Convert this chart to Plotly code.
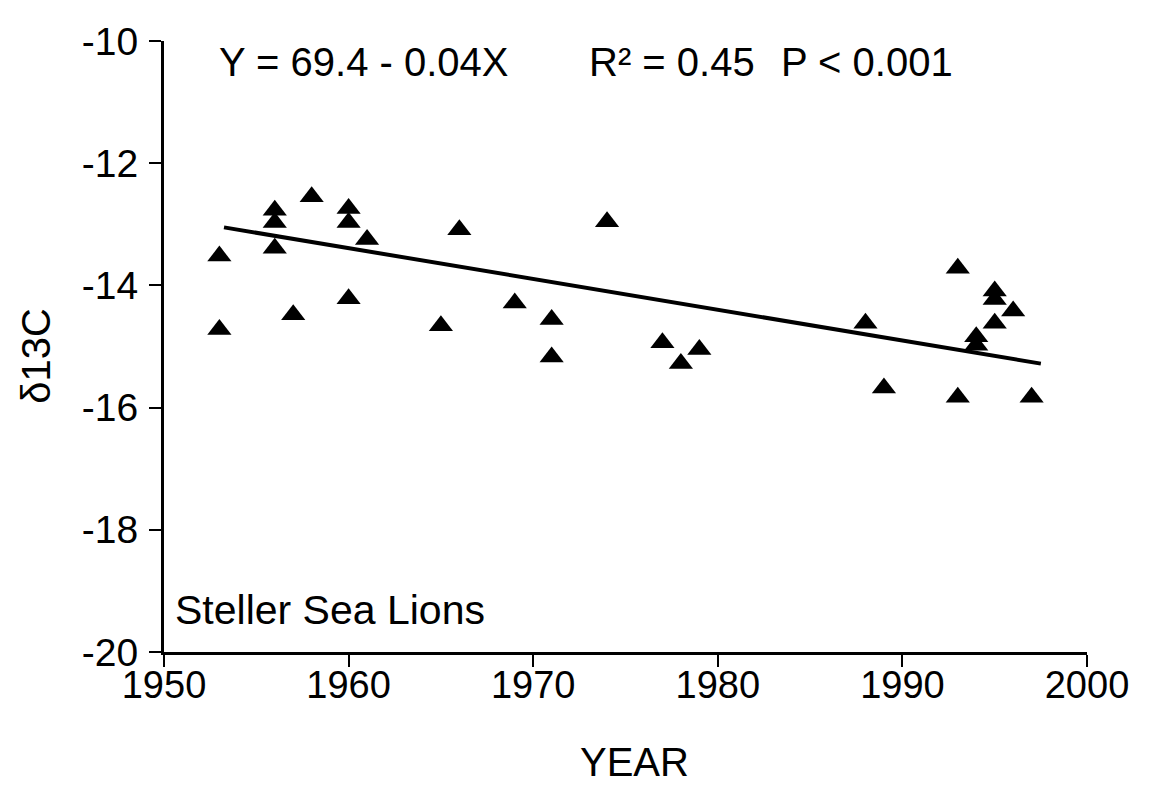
import plotly.graph_objects as go

# ---- data ----
years = [1953, 1953, 1956, 1956, 1956, 1957, 1958, 1960, 1960, 1960,
         1961, 1965, 1966, 1969, 1971, 1971, 1974, 1977, 1978, 1979,
         1988, 1989, 1993, 1993, 1994, 1994, 1995, 1995, 1995, 1996, 1997]
d13c = [-13.52, -14.72, -12.77, -12.97, -13.39, -14.48, -12.55, -12.74, -12.97, -14.22,
        -13.25, -14.66, -13.09, -14.29, -14.56, -15.17, -12.96, -14.94, -15.28, -15.05,
        -14.62, -15.68, -13.72, -15.83, -14.84, -14.98, -14.09, -14.23, -14.62, -14.42, -15.83]

fit_x = [1953.25, 1997.5]
fit_y = [-13.05, -15.28]

x_ticks = [1950, 1960, 1970, 1980, 1990, 2000]
x_ticktext = ["1950", "1960", "1970", "1980", "1990", "2000"]
y_ticks = [-20, -18, -16, -14, -12, -10]
y_ticktext = ["-20", "-18", "-16", "-14", "-12", "-10"]

FONT = "Liberation Sans, Arial, Helvetica, sans-serif"

fig = go.Figure()
fig.add_trace(go.Scatter(
    x=fit_x, y=fit_y, mode="lines",
    line=dict(color="black", width=4), showlegend=False, hoverinfo="skip"))
fig.add_trace(go.Scatter(
    x=years, y=d13c, mode="markers",
    marker=dict(symbol="triangle-up", size=21, color="black", line=dict(width=0)),
    showlegend=False))

# page body has an 8px margin, so the figure is drawn 8px smaller and margins compensate
fig.update_layout(
    width=1143, height=785,
    margin=dict(l=156, r=64, t=27, b=141),
    paper_bgcolor="white", plot_bgcolor="white",
    font=dict(family=FONT, color="black", size=38),
    xaxis=dict(range=[1950, 2000], tickmode="array", tickvals=x_ticks, ticktext=x_ticktext,
               showgrid=False, zeroline=False, showline=True, linecolor="black", linewidth=3,
               ticks="outside", ticklen=12, tickwidth=2, tickcolor="black",
               ticklabelstandoff=-15,
               tickfont=dict(size=38, family=FONT)),
    yaxis=dict(range=[-20, -10], tickmode="array", tickvals=y_ticks, ticktext=y_ticktext,
               showgrid=False, zeroline=False, showline=True, linecolor="black", linewidth=3,
               ticks="outside", ticklen=12, tickwidth=2, tickcolor="black",
               ticklabelstandoff=3,
               tickfont=dict(size=39, family=FONT)),
)

ann_font = dict(family=FONT, size=40, color="black")
fig.add_annotation(x=1952.87, y=-10.34, xref="x", yref="y", text="Y = 69.4 - 0.04X",
                   showarrow=False, xanchor="left", yanchor="middle", font=ann_font)
fig.add_annotation(x=1972.9, y=-10.34, xref="x", yref="y", text="R² = 0.45",
                   showarrow=False, xanchor="left", yanchor="middle", font=ann_font)
fig.add_annotation(x=1983.3, y=-10.34, xref="x", yref="y", text="P < 0.001",
                   showarrow=False, xanchor="left", yanchor="middle", font=ann_font)
fig.add_annotation(x=1950.5, y=-19.32, xref="x", yref="y", text="Steller Sea Lions",
                   showarrow=False, xanchor="left", yanchor="middle",
                   font=dict(family=FONT, size=41, color="black"))
fig.add_annotation(x=0.51, y=0, xref="paper", yref="paper", yshift=-110, text="YEAR",
                   showarrow=False, xanchor="center", yanchor="middle", font=ann_font)
fig.add_annotation(x=0, y=0.506, xref="paper", yref="paper", xshift=-128, yshift=-13,
                   text="δ13C", textangle=-90, showarrow=False,
                   xanchor="center", yanchor="middle", font=ann_font)

fig.write_html("out.html")
